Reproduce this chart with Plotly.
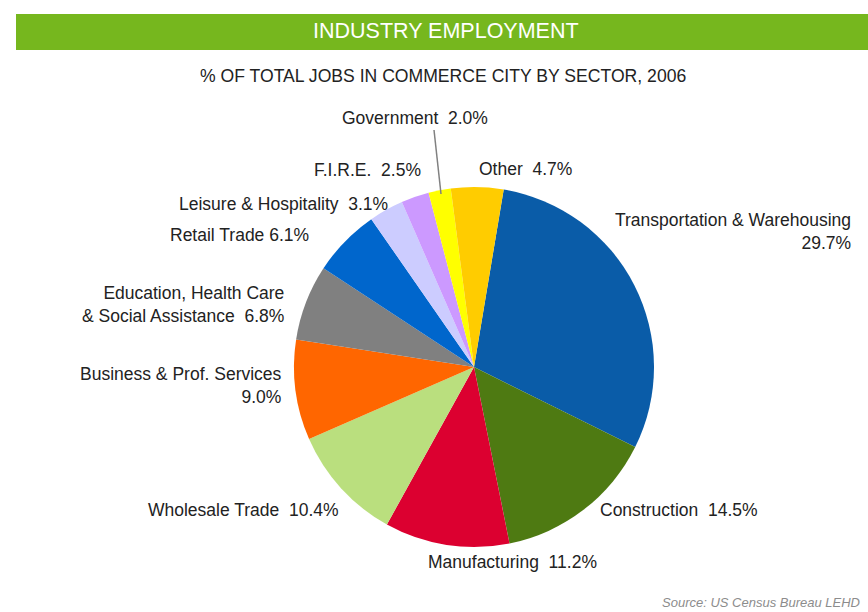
import plotly.graph_objects as go

# ---- data ----
sectors = [
    "Transportation & Warehousing",
    "Construction",
    "Manufacturing",
    "Wholesale Trade",
    "Business & Prof. Services",
    "Education, Health Care & Social Assistance",
    "Retail Trade",
    "Leisure & Hospitality",
    "F.I.R.E.",
    "Government",
    "Other",
]
shares = [29.7, 14.5, 11.2, 10.4, 9.0, 6.8, 6.1, 3.1, 2.5, 2.0, 4.7]
colors = [
    "#0A5CA8", "#4E7A12", "#DC0030", "#BADF7E", "#FF6600", "#808080",
    "#0066CC", "#CCCCFF", "#CC99FF", "#FFFF00", "#FFCC00",
]

W, H = 868, 612
FONT = "Liberation Sans Narrow, Arial Narrow, Liberation Sans, Arial, sans-serif"


def px(x):
    return x / W


def py(y):
    return 1 - y / H


# label placement (pixel anchor, xanchor, line break style)
label_pos = {
    "Transportation & Warehousing": (853, 231, "right", "br"),
    "Construction": (598, 510, "left", "sp"),
    "Manufacturing": (426, 562, "left", "sp"),
    "Wholesale Trade": (146, 510, "left", "sp"),
    "Business & Prof. Services": (284, 385, "right", "br"),
    "Education, Health Care & Social Assistance": (286, 304, "right", "edu"),
    "Retail Trade": (168, 235, "left", "sp1"),
    "Leisure & Hospitality": (177, 204, "left", "sp"),
    "F.I.R.E.": (312, 170, "left", "sp"),
    "Government": (340, 118, "left", "sp"),
    "Other": (477, 169, "left", "sp"),
}

fig = go.Figure(go.Pie(
    labels=sectors,
    values=shares,
    marker=dict(colors=colors, line=dict(width=0)),
    sort=False,
    direction="clockwise",
    rotation=9.5,
    textinfo="none",
    hovertemplate="<b>%{label}</b><br>%{value:.1f}%<extra></extra>",
    domain=dict(x=[px(474 - 180), px(474 + 180)], y=[py(547), py(187)]),
))

annotations = []
for name, val in zip(sectors, shares):
    x, y, anchor, style = label_pos[name]
    pct = f"{val:.1f}%"
    if style == "br":
        txt = f"{name}<br>{pct}"
    elif style == "edu":
        txt = f"Education, Health Care<br>& Social Assistance &nbsp;{pct}"
    elif style == "sp1":
        txt = f"{name} {pct}"
    else:
        txt = f"{name} &nbsp;{pct}"
    annotations.append(dict(
        text=txt, x=px(x), y=py(y), xref="paper", yref="paper",
        xanchor=anchor, yanchor="middle", align=anchor, showarrow=False,
        font=dict(family=FONT, size=17.5, color="#222222"),
    ))

# header, subtitle, source
annotations += [
    dict(text="INDUSTRY EMPLOYMENT", x=px(446), y=py(31), xref="paper", yref="paper",
         xanchor="center", yanchor="middle", showarrow=False,
         font=dict(family=FONT, size=21.5, color="white")),
    dict(text="% OF TOTAL JOBS IN COMMERCE CITY BY SECTOR, 2006", x=px(443), y=py(76),
         xref="paper", yref="paper", xanchor="center", yanchor="middle", showarrow=False,
         font=dict(family=FONT, size=17.6, color="#222222")),
    dict(text="<i>Source: US Census Bureau LEHD</i>", x=px(862), y=py(602),
         xref="paper", yref="paper", xanchor="right", yanchor="middle", showarrow=False,
         font=dict(family=FONT, size=13, color="#8C8C8C")),
]

fig.update_layout(
    width=W, height=H,
    margin=dict(l=0, r=0, t=0, b=0),
    paper_bgcolor="white",
    plot_bgcolor="white",
    showlegend=False,
    annotations=annotations,
    shapes=[
        dict(type="rect", xref="paper", yref="paper", x0=px(16), x1=1, y0=py(50), y1=py(14),
             fillcolor="#76B71E", line=dict(width=0), layer="below"),
        dict(type="line", xref="paper", yref="paper", x0=px(434), y0=py(130), x1=px(441), y1=py(194),
             line=dict(color="#808080", width=1.5)),
    ],
)

fig.write_html("out.html", config={"displayModeBar": False},
               post_script="document.body.style.margin='0';")
